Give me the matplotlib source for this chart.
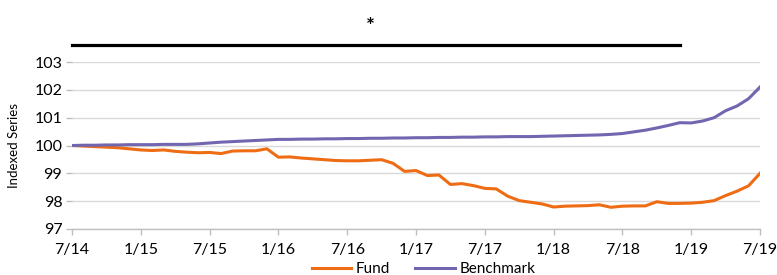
import matplotlib
matplotlib.use("Agg")
import matplotlib.pyplot as plt
import numpy as np

months = list(range(61))
tick_labels = ["7/14", "1/15", "7/15", "1/16", "7/16", "1/17", "7/17", "1/18", "7/18", "1/19", "7/19"]

fund = [100.00, 99.98, 99.96, 99.94, 99.92, 99.88, 99.84, 99.82, 99.84, 99.79,
        99.76, 99.74, 99.75, 99.71, 99.80, 99.81, 99.81, 99.88, 99.58, 99.59,
        99.55, 99.52, 99.49, 99.46, 99.45, 99.45, 99.47, 99.49, 99.36, 99.07,
        99.10, 98.92, 98.94, 98.60, 98.63, 98.56, 98.46, 98.44, 98.18, 98.02,
        97.96, 97.90, 97.79, 97.82, 97.83, 97.84, 97.87, 97.78, 97.82, 97.83,
        97.83, 97.98, 97.92, 97.92, 97.93, 97.96, 98.02, 98.20, 98.36, 98.55,
        99.00]

benchmark = [100.00, 100.01, 100.01, 100.02, 100.02, 100.03, 100.03, 100.03, 100.04, 100.04,
             100.04, 100.06, 100.09, 100.12, 100.14, 100.16, 100.18, 100.20, 100.22, 100.22,
             100.23, 100.23, 100.24, 100.24, 100.25, 100.25, 100.26, 100.26, 100.27, 100.27,
             100.28, 100.28, 100.29, 100.29, 100.30, 100.30, 100.31, 100.31, 100.32, 100.32,
             100.32, 100.33, 100.34, 100.35, 100.36, 100.37, 100.38, 100.40, 100.43, 100.49,
             100.55, 100.63, 100.72, 100.82, 100.81, 100.88, 101.00, 101.25, 101.42, 101.68,
             102.10]

bar_months = list(range(54))
bar_value = 103.62
star_month = 26

plt.rcParams['font.family'] = ['Lato', 'DejaVu Sans']

fig = plt.figure(figsize=(7.77, 2.75), dpi=100)
ax = fig.add_axes([72/777, 1-229/275, (760-72)/777, (229-62)/275])

grid_c = "#d9d9d9"
for v in range(97, 104):
    ax.axhline(v, color=grid_c, lw=1.0, zorder=0)

ax.plot(months, fund, color="#ee6c14", lw=2.2, label="Fund", zorder=3)
ax.plot(months, benchmark, color="#7266b0", lw=2.2, label="Benchmark", zorder=3)

ax.plot(bar_months, [bar_value]*len(bar_months), color="black", lw=2.3,
        marker="|", markersize=1.6, markeredgewidth=0.5, clip_on=False, zorder=4)
ax.text(star_month, 104.25, "*", ha="center", va="center", fontsize=15,
        fontweight="bold", clip_on=False)

ax.set_xlim(0, 60)
ax.set_ylim(97, 103)
ax.set_yticks(range(97, 104))
ax.set_xticks(range(0, 61, 6))
ax.set_xticklabels(tick_labels)
for s in ["top", "right", "left"]:
    ax.spines[s].set_visible(False)
ax.spines["bottom"].set_color("#bfbfbf")
ax.spines["bottom"].set_linewidth(1.0)
ax.tick_params(axis="x", colors="#bfbfbf", length=4, width=1, labelcolor="black",
               labelsize=11.5, pad=6)
ax.tick_params(axis="y", colors="#bfbfbf", length=4, width=1, labelcolor="black",
               labelsize=11.5, pad=3)
ax.set_ylabel("Indexed Series", fontsize=9.5, labelpad=10)

leg = fig.legend(loc="lower center", bbox_to_anchor=(0.545, -0.055), ncol=2, frameon=False,
                 fontsize=11, handlelength=2.6, columnspacing=1.6, handletextpad=0.3)

fig.savefig("out.png", dpi=100)
